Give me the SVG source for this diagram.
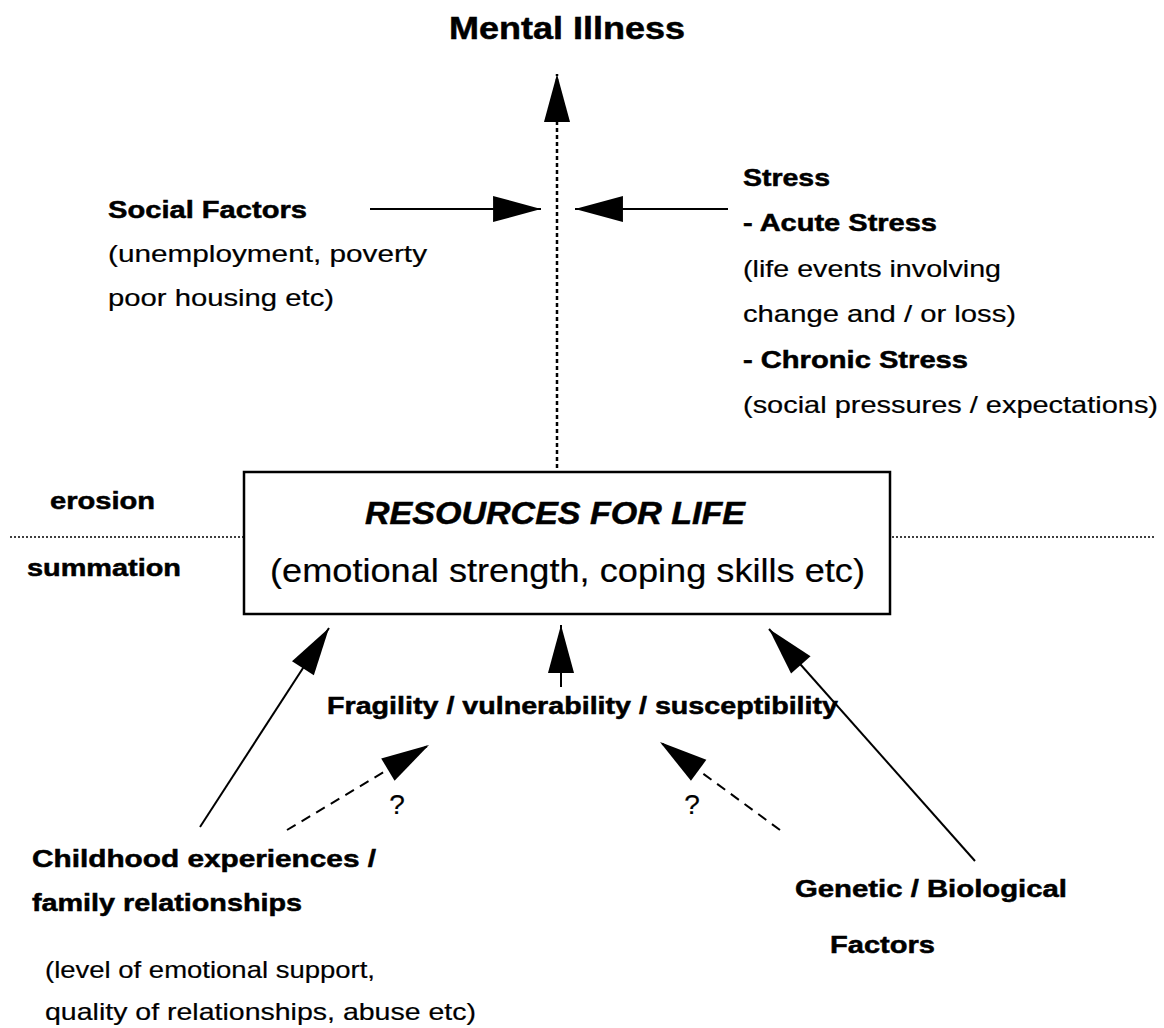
<svg xmlns="http://www.w3.org/2000/svg" width="1164" height="1028" viewBox="0 0 1164 1028">
  <style>
    text { font-family: "Liberation Sans", Arial, sans-serif; fill: #000; }
    .b { font-weight: bold; font-size: 24px; stroke: #000; stroke-width: 0.5; }
    .r { font-size: 24px; stroke: #000; stroke-width: 0.2; }
    .q { font-size: 28px; stroke: #000; stroke-width: 0.2; }
    .line { stroke: #000; stroke-width: 2; fill: none; }
    .dash { stroke-dasharray: 10 7; }
    .dot { stroke-width: 2.5; stroke-dasharray: 4 3; }
    .sep { stroke: #000; stroke-width: 1.5; stroke-dasharray: 2 2; fill: none; }
  </style>
  <defs>
    <marker id="head" markerUnits="userSpaceOnUse" markerWidth="50" markerHeight="30" viewBox="-47 -14 48 28" refX="0" refY="0" orient="auto">
      <path d="M0,0 L-46,-12.5 L-46,12.5 Z" fill="#000"/>
    </marker>
  </defs>

  <rect width="1164" height="1028" fill="#fff"/>

  <!-- separator between erosion and summation -->
  <g id="separator">
    <line class="sep" x1="10" y1="537" x2="244" y2="537"/>
    <line class="sep" x1="892" y1="537" x2="1156" y2="537"/>
  </g>

  <g id="connectors">
    <line class="line dot" x1="557" y1="468" x2="557" y2="74" marker-end="url(#head)"/>
    <line class="line" x1="370" y1="209" x2="541" y2="209" marker-end="url(#head)"/>
    <line class="line" x1="728" y1="209" x2="575" y2="209" marker-end="url(#head)"/>
    <line class="line" x1="561" y1="687" x2="561" y2="625" marker-end="url(#head)"/>
    <line class="line" x1="200" y1="827" x2="329" y2="628" marker-end="url(#head)"/>
    <line class="line" x1="975" y1="861" x2="769" y2="629" marker-end="url(#head)"/>
    <line class="line dash" x1="287" y1="830" x2="429" y2="745" marker-end="url(#head)"/>
    <line class="line dash" x1="780" y1="830" x2="660" y2="742" marker-end="url(#head)"/>
    <text class="q" x="397" y="814" text-anchor="middle">?</text>
    <text class="q" x="692" y="814" text-anchor="middle">?</text>
  </g>

  <g id="mental-illness">
    <text class="b" x="449" y="39" style="font-size:32px" textLength="236" lengthAdjust="spacingAndGlyphs">Mental Illness</text>
  </g>

  <g id="social-factors">
    <text class="b" x="108" y="218" textLength="199" lengthAdjust="spacingAndGlyphs">Social Factors</text>
    <text class="r" x="108" y="262" textLength="319" lengthAdjust="spacingAndGlyphs">(unemployment, poverty</text>
    <text class="r" x="108" y="306" textLength="226" lengthAdjust="spacingAndGlyphs">poor housing etc)</text>
  </g>

  <g id="stress">
    <text class="b" x="743" y="186" textLength="87" lengthAdjust="spacingAndGlyphs">Stress</text>
    <text class="b" x="743" y="231" textLength="194" lengthAdjust="spacingAndGlyphs">- Acute Stress</text>
    <text class="r" x="743" y="277" textLength="258" lengthAdjust="spacingAndGlyphs">(life events involving</text>
    <text class="r" x="743" y="322" textLength="273" lengthAdjust="spacingAndGlyphs">change and / or loss)</text>
    <text class="b" x="743" y="368" textLength="225" lengthAdjust="spacingAndGlyphs">- Chronic Stress</text>
    <text class="r" x="743" y="413" textLength="415" lengthAdjust="spacingAndGlyphs">(social pressures / expectations)</text>
  </g>

  <g id="erosion">
    <text class="b" x="50" y="509" style="font-size:23px" textLength="105" lengthAdjust="spacingAndGlyphs">erosion</text>
  </g>
  <g id="summation">
    <text class="b" x="27" y="576" style="font-size:23px" textLength="154" lengthAdjust="spacingAndGlyphs">summation</text>
  </g>

  <g id="resources">
    <rect x="244" y="472" width="646" height="142" fill="#fff" stroke="#000" stroke-width="2.5"/>
    <text x="365" y="524" font-weight="bold" font-style="italic" font-size="31" stroke="#000" stroke-width="0.5" textLength="380" lengthAdjust="spacingAndGlyphs">RESOURCES FOR LIFE</text>
    <text x="270" y="582" font-size="34" stroke="#000" stroke-width="0.2" textLength="595" lengthAdjust="spacingAndGlyphs">(emotional strength, coping skills etc)</text>
  </g>

  <g id="fragility">
    <text class="b" x="327" y="714" style="font-size:23px" textLength="511" lengthAdjust="spacingAndGlyphs">Fragility / vulnerability / susceptibility</text>
  </g>

  <g id="childhood">
    <text class="b" x="32" y="867" textLength="344" lengthAdjust="spacingAndGlyphs">Childhood experiences /</text>
    <text class="b" x="32" y="911" textLength="270" lengthAdjust="spacingAndGlyphs">family relationships</text>
    <text class="r" x="45" y="978" textLength="330" lengthAdjust="spacingAndGlyphs">(level of emotional support,</text>
    <text class="r" x="45" y="1020" textLength="431" lengthAdjust="spacingAndGlyphs">quality of relationships, abuse etc)</text>
  </g>

  <g id="genetic">
    <text class="b" x="795" y="897" textLength="272" lengthAdjust="spacingAndGlyphs">Genetic / Biological</text>
    <text class="b" x="830" y="953" textLength="105" lengthAdjust="spacingAndGlyphs">Factors</text>
  </g>
</svg>
